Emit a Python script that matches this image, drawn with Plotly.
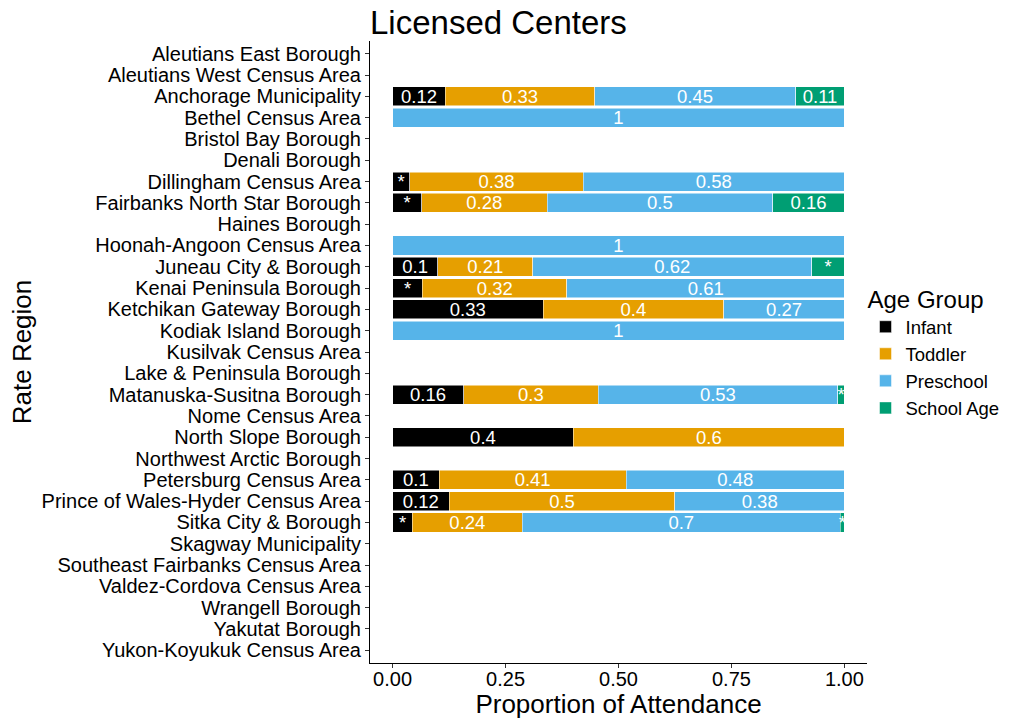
import plotly.graph_objects as go

regions = [
    "Aleutians East Borough", "Aleutians West Census Area", "Anchorage Municipality",
    "Bethel Census Area", "Bristol Bay Borough", "Denali Borough", "Dillingham Census Area",
    "Fairbanks North Star Borough", "Haines Borough", "Hoonah-Angoon Census Area",
    "Juneau City & Borough", "Kenai Peninsula Borough", "Ketchikan Gateway Borough",
    "Kodiak Island Borough", "Kusilvak Census Area", "Lake & Peninsula Borough",
    "Matanuska-Susitna Borough", "Nome Census Area", "North Slope Borough",
    "Northwest Arctic Borough", "Petersburg Census Area", "Prince of Wales-Hyder Census Area",
    "Sitka City & Borough", "Skagway Municipality", "Southeast Fairbanks Census Area",
    "Valdez-Cordova Census Area", "Wrangell Borough", "Yakutat Borough",
    "Yukon-Koyukuk Census Area",
]

infant = [None, None, 0.117, None, None, None, 0.038, 0.064, None, None,
          0.100, 0.066, 0.333, None, None, None, 0.157, None, 0.400, None,
          0.103, 0.125, 0.044, None, None, None, None, None, None]
toddler = [None, None, 0.330, None, None, None, 0.384, 0.278, None, None,
           0.210, 0.320, 0.400, None, None, None, 0.298, None, 0.600, None,
           0.414, 0.500, 0.243, None, None, None, None, None, None]
preschool = [None, None, 0.445, 1.0, None, None, 0.578, 0.499, None, 1.0,
             0.618, 0.614, 0.267, 1.0, None, None, 0.530, None, None, None,
             0.483, 0.375, 0.704, None, None, None, None, None, None]
school_age = [None, None, 0.108, None, None, None, None, 0.159, None, None,
              0.072, None, None, None, None, None, 0.015, None, None, None,
              None, None, 0.009, None, None, None, None, None, None]

groups = ["Infant", "Toddler", "Preschool", "School Age"]
colors = ["#000000", "#E69F00", "#56B4E9", "#009E73"]
series = [infant, toddler, preschool, school_age]
x_ticks = [0, 0.25, 0.5, 0.75, 1.0]
x_tick_text = ["0.00", "0.25", "0.50", "0.75", "1.00"]


def label(v):
    if v is None:
        return ""
    if v < 0.08:
        return "*"
    return f"{round(v, 2):g}"


FONT = "Liberation Sans, Arial, sans-serif"

fig = go.Figure()
for name, col, vals in zip(groups, colors, series):
    fig.add_trace(go.Bar(
        y=regions, x=vals, name=name, orientation="h",
        marker=dict(color=col, line=dict(color="white", width=0.5)),
        width=0.9,
        text=[label(v) for v in vals],
        textposition="inside", insidetextanchor="middle", textangle=0,
        textfont=dict(color="white", size=18.5, family=FONT),
        constraintext="none",
        cliponaxis=False,
    ))

fig.update_layout(
    barmode="stack",
    width=1016, height=719,
    paper_bgcolor="white", plot_bgcolor="white",
    margin=dict(l=370, r=148, t=41, b=56),
    font=dict(family=FONT, color="black"),
    uniformtext=dict(minsize=18.5, mode="show"),
    title=dict(text="Licensed Centers", x=370 / 1016, xanchor="left",
               y=1 - 22 / 719, yanchor="middle",
               font=dict(size=33, color="black", family=FONT)),
    legend=dict(
        title=dict(text="Age Group", font=dict(size=24, color="black")),
        font=dict(size=18.5, color="black"),
        x=0.995, xanchor="left", y=0.5, yanchor="middle",
        tracegroupgap=0, itemwidth=30, traceorder="normal",
        bgcolor="rgba(0,0,0,0)", borderwidth=0,
    ),
    xaxis=dict(
        range=[-0.05, 1.05], tickmode="array", tickvals=x_ticks, ticktext=x_tick_text,
        showgrid=False, zeroline=False, showline=True, linecolor="black", linewidth=1,
        ticks="outside", ticklen=4, tickcolor="#333333", ticklabelstandoff=-6,
        tickfont=dict(size=20, color="black"),
        title=dict(text="Proportion of Attendance", font=dict(size=26, color="black"), standoff=0),
        automargin=False,
    ),
    yaxis=dict(
        categoryorder="array", categoryarray=regions,
        tickmode="array", tickvals=regions,
        range=[len(regions) - 0.4, -0.6],
        showgrid=False, zeroline=False, showline=True, linecolor="black", linewidth=1,
        ticks="outside", ticklen=4, tickcolor="#333333",
        tickfont=dict(size=20, color="black"),
        title=dict(text="Rate Region", font=dict(size=26, color="black"), standoff=2),
        automargin=False,
    ),
)

fig.write_html("out.html", config={"displayModeBar": False},
               post_script="document.body.style.margin='0';")
